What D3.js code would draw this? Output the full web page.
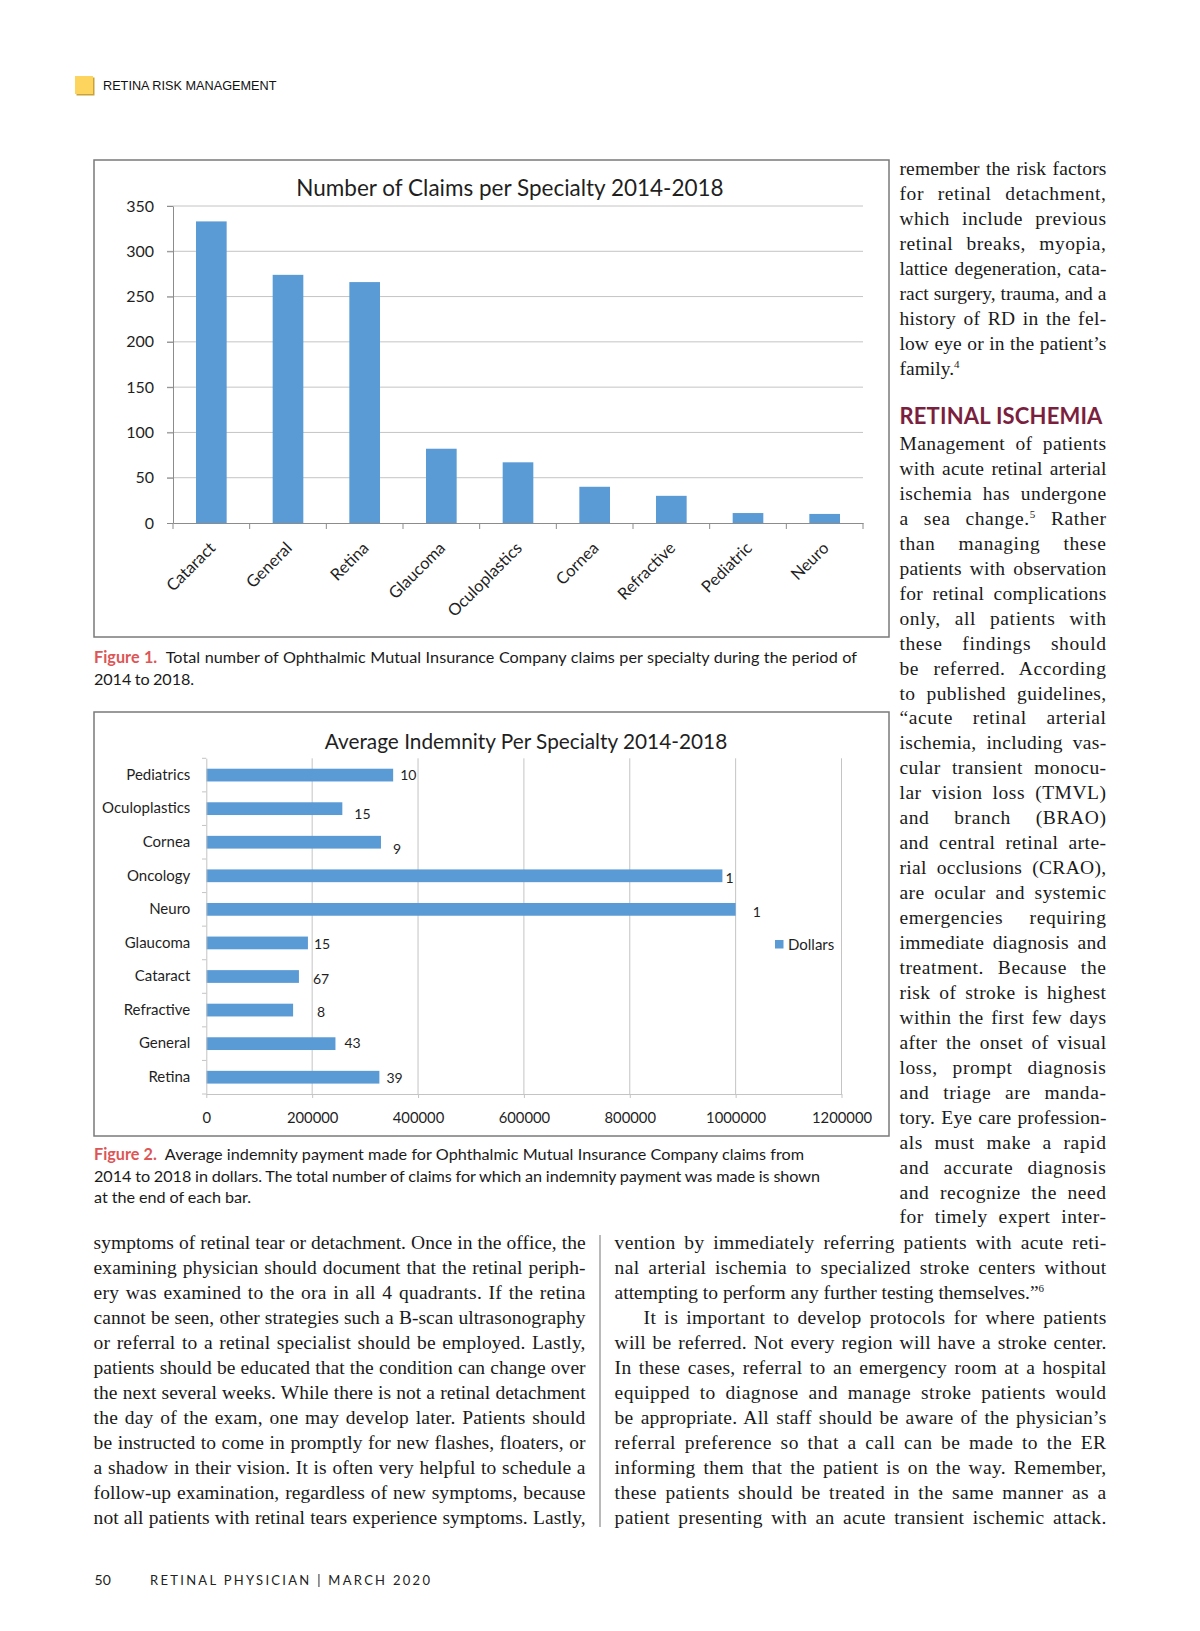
<!DOCTYPE html>
<html><head><meta charset="utf-8">
<script src="https://cdn.jsdelivr.net/npm/d3@7"></script>
<style>html,body{margin:0;padding:0;background:#fff}</style>
</head><body>
<svg id="page" width="1200" height="1631" xmlns="http://www.w3.org/2000/svg"></svg>
<script>
// ---------- DATA ----------
const claimSpecialties = ["Cataract","General","Retina","Glaucoma","Oculoplastics","Cornea","Refractive","Pediatric","Neuro"];
const claimCounts = [333, 274, 266, 82, 67, 40, 30, 11, 10];
const claimTicks = [0, 50, 100, 150, 200, 250, 300, 350];
const claimTitle = "Number of Claims per Specialty 2014-2018";

const indemnitySpecialties = ["Pediatrics","Oculoplastics","Cornea","Oncology","Neuro","Glaucoma","Cataract","Refractive","General","Retina"];
const indemnityDollars = [353000, 257000, 330000, 975000, 1000000, 192000, 175000, 164000, 244000, 327000];
const indemnityPaidClaims = ["10","15","9","1","1","15","67","8","43","39"];
const indemnityTicks = [0, 200000, 400000, 600000, 800000, 1000000, 1200000];
const indemnityTitle = "Average Indemnity Per Specialty 2014-2018";
const legendLabel = "Dollars";
// manual data-label nudges (as placed in the original spreadsheet chart)
const labelNudgeX = [7, 12, 12, 3, 17, 6, 14, 24, 9, 7];
const labelNudgeY = [0, 5, 7, 2, 3, 1, 3, 2, -1, 1];

const headerText = "RETINA RISK MANAGEMENT";
const caption1 = [["Figure 1.", "  Total number of Ophthalmic Mutual Insurance Company claims per specialty during the period of"], ["", "2014 to 2018."]];
const caption2 = [["Figure 2.", "  Average indemnity payment made for Ophthalmic Mutual Insurance Company claims from"], ["", "2014 to 2018 in dollars. The total number of claims for which an indemnity payment was made is shown"], ["", "at the end of each bar."]];

const colTopRight = ["remember the risk factors","for retinal detachment,","which include previous","retinal breaks, myopia,","lattice degeneration, cata-","ract surgery, trauma, and a","history of RD in the fel-","low eye or in the patient’s","family.^4"];
const heading = "RETINAL ISCHEMIA";
const colMidRight = ["Management of patients","with acute retinal arterial","ischemia has undergone","a sea change.^5 Rather","than managing these","patients with observation","for retinal complications","only, all patients with","these findings should","be referred. According","to published guidelines,","“acute retinal arterial","ischemia, including vas-","cular transient monocu-","lar vision loss (TMVL)","and branch (BRAO)","and central retinal arte-","rial occlusions (CRAO),","are ocular and systemic","emergencies requiring","immediate diagnosis and","treatment. Because the","risk of stroke is highest","within the first few days","after the onset of visual","loss, prompt diagnosis","and triage are manda-","tory. Eye care profession-","als must make a rapid","and accurate diagnosis","and recognize the need","for timely expert inter-"];
const colBottomLeft = ["symptoms of retinal tear or detachment. Once in the office, the","examining physician should document that the retinal periph-","ery was examined to the ora in all 4 quadrants. If the retina","cannot be seen, other strategies such a B-scan ultrasonography","or referral to a retinal specialist should be employed. Lastly,","patients should be educated that the condition can change over","the next several weeks. While there is not a retinal detachment","the day of the exam, one may develop later. Patients should","be instructed to come in promptly for new flashes, floaters, or","a shadow in their vision. It is often very helpful to schedule a","follow-up examination, regardless of new symptoms, because","not all patients with retinal tears experience symptoms. Lastly,"];
const colBottomRight = ["vention by immediately referring patients with acute reti-","nal arterial ischemia to specialized stroke centers without","attempting to perform any further testing themselves.”^6","It is important to develop protocols for where patients","will be referred. Not every region will have a stroke center.","In these cases, referral to an emergency room at a hospital","equipped to diagnose and manage stroke patients would","be appropriate. All staff should be aware of the physician’s","referral preference so that a call can be made to the ER","informing them that the patient is on the way. Remember,","these patients should be treated in the same manner as a","patient presenting with an acute transient ischemic attack."];
const footerPage = "50";
const footerText = "RETINAL PHYSICIAN | MARCH 2020";

// ---------- STYLE ----------
const BAR = "#5b9bd5", GRID = "#c4c4c4", AXIS = "#8c8c8c", INK = "#1f1f1f";
const SANS = "Lato, 'Open Sans', sans-serif";
const SERIF = "'Liberation Serif', 'DejaVu Serif', serif";
const svg = d3.select("#page");

// justify a line to a target width: part of the slack goes to letters, the rest to word gaps
function fit(sel, target, letterShare = 0.45, maxLetter = 0.6) {
  const node = sel.node();
  const nat = node.getComputedTextLength();
  const txt = node.textContent;
  const spaces = (txt.match(/ /g) || []).length;
  const extra = target - nat;
  if (spaces > 0) {
    let ls = extra * letterShare / txt.length;
    ls = Math.max(-0.25, Math.min(maxLetter, ls));
    sel.attr("letter-spacing", ls);
    const mid = node.getComputedTextLength();
    sel.attr("word-spacing", (target - mid) / spaces);
    const now = node.getComputedTextLength();
    if (Math.abs(now - target) > 2) sel.attr("word-spacing", null).attr("letter-spacing", null).attr("textLength", target).attr("lengthAdjust", "spacing");
  } else {
    sel.attr("textLength", target).attr("lengthAdjust", "spacing");
  }
}
function rich(sel, str) {
  const parts = str.split(/\^(\d)/);
  let raised = false;
  parts.forEach((p, i) => {
    if (!p) return;
    if (i % 2 === 1) {
      sel.append("tspan").attr("font-size", 11).attr("dy", -7).text(p);
      raised = true;
    } else {
      const t = sel.append("tspan").text(p);
      if (raised) { t.attr("dy", 7); raised = false; }
    }
  });
}
function column(lines, x, width, y0, lh, opts = {}) {
  lines.forEach((ln, i) => {
    const indent = (opts.indent && opts.indent[i]) || 0;
    const t = svg.append("text").attr("x", x + indent).attr("y", y0 + i * lh)
      .attr("font-family", SERIF).attr("font-size", 19.5).attr("fill", "#1a1a1a");
    rich(t, ln);
    if (!(opts.ragged && opts.ragged.includes(i))) fit(t, width - indent);
  });
}

// ---------- HEADER ----------
svg.append("rect").attr("x", 76.5).attr("y", 77.5).attr("width", 18).attr("height", 18).attr("fill", "#c9a23a");
svg.append("rect").attr("x", 75).attr("y", 76).attr("width", 18).attr("height", 18).attr("fill", "#fdd55e");
svg.append("text").attr("x", 103).attr("y", 90).attr("font-family", "'Liberation Sans', Arial, sans-serif")
  .attr("font-size", 12.7).attr("fill", "#111").text(headerText);

// ---------- CHART 1 ----------
svg.append("rect").attr("x", 94).attr("y", 160).attr("width", 795).attr("height", 477)
  .attr("fill", "#fff").attr("stroke", "#7a7a7a").attr("stroke-width", 1.5);
svg.append("text").attr("x", 510).attr("y", 196).attr("text-anchor", "middle")
  .attr("font-family", SANS).attr("font-size", 22.5).attr("fill", INK).text(claimTitle);

const x1 = d3.scaleBand().domain(claimSpecialties).range([173, 863]).paddingInner(0.6).paddingOuter(0.3);
const y1 = d3.scaleLinear().domain([0, 350]).range([523, 206]);
const g1 = svg.append("g");
g1.selectAll("line.grid").data(claimTicks.filter(d => d > 0)).join("line")
  .attr("x1", 167).attr("x2", 863).attr("y1", d => y1(d)).attr("y2", d => y1(d))
  .attr("stroke", GRID).attr("stroke-width", 1);
g1.selectAll("rect.bar").data(claimCounts).join("rect")
  .attr("x", (d, i) => x1(claimSpecialties[i])).attr("width", x1.bandwidth())
  .attr("y", d => y1(d)).attr("height", d => y1(0) - y1(d)).attr("fill", BAR);
const ya1 = g1.append("g").attr("transform", "translate(173,0)")
  .call(d3.axisLeft(y1).tickValues(claimTicks).tickSize(6).tickSizeOuter(0).tickPadding(13));
ya1.select(".domain").attr("stroke", AXIS);
ya1.selectAll(".tick line").attr("stroke", AXIS);
ya1.selectAll("text").attr("font-family", SANS).attr("font-size", 16).attr("fill", INK);
const xa1 = g1.append("g").attr("transform", "translate(0,523)")
  .call(d3.axisBottom(x1).tickSize(0).tickSizeOuter(0).tickPadding(0));
xa1.select(".domain").attr("stroke", AXIS);
xa1.selectAll(".tick text").attr("font-family", SANS).attr("font-size", 16.5).attr("fill", INK)
  .attr("text-anchor", "end").attr("dy", "0.35em").attr("transform", "translate(1,22) rotate(-45)");
const bounds1 = claimSpecialties.map(d => x1(d) - x1.step() * x1.paddingOuter()).concat([x1.range()[1]]);
g1.selectAll("line.bt").data(bounds1).join("line")
  .attr("x1", d => d).attr("x2", d => d).attr("y1", 523).attr("y2", 529).attr("stroke", AXIS);

// caption 1
caption1.forEach((c, i) => {
  const t = svg.append("text").attr("x", 94).attr("y", 663 + i * 21.7).attr("font-family", SANS).attr("font-size", 16.2).attr("fill", "#1a1a1a");
  if (c[0]) t.append("tspan").attr("fill", "#dc5656").attr("font-weight", 700).text(c[0]);
  t.append("tspan").text(c[1]).attr("xml:space", "preserve");
  fit(t, i === 0 ? 763 : 100, 0.5, 0.3);
});

// ---------- CHART 2 ----------
svg.append("rect").attr("x", 94).attr("y", 712).attr("width", 795).attr("height", 424)
  .attr("fill", "#fff").attr("stroke", "#7a7a7a").attr("stroke-width", 1.5);
svg.append("text").attr("x", 526).attr("y", 749).attr("text-anchor", "middle")
  .attr("font-family", SANS).attr("font-size", 20.8).attr("fill", INK).text(indemnityTitle);

const x2 = d3.scaleLinear().domain([0, 1200000]).range([206.3, 841.5]);
const y2 = d3.scaleBand().domain(indemnitySpecialties).range([758.3, 1094]).paddingInner(0.62).paddingOuter(0.31);
const g2 = svg.append("g");
g2.selectAll("line.grid").data(indemnityTicks.filter(d => d > 0)).join("line")
  .attr("x1", d => x2(d)).attr("x2", d => x2(d)).attr("y1", 758.3).attr("y2", 1094)
  .attr("stroke", GRID).attr("stroke-width", 1);
g2.selectAll("rect.bar").data(indemnityDollars).join("rect")
  .attr("x", x2(0)).attr("width", d => x2(d) - x2(0))
  .attr("y", (d, i) => y2(indemnitySpecialties[i])).attr("height", y2.bandwidth()).attr("fill", BAR);
const xa2 = g2.append("g").attr("transform", "translate(0,1094)")
  .call(d3.axisBottom(x2).tickValues(indemnityTicks).tickFormat(d3.format("d")).tickSize(4).tickSizeOuter(0).tickPadding(14));
xa2.select(".domain").attr("stroke", GRID);
xa2.selectAll(".tick line").attr("stroke", GRID);
xa2.selectAll("text").attr("font-family", SANS).attr("font-size", 14.8).attr("fill", INK);
const ya2 = g2.append("g").attr("transform", "translate(206.3,0)")
  .call(d3.axisLeft(y2).tickSize(0).tickSizeOuter(0).tickPadding(16));
ya2.select(".domain").attr("stroke", GRID);
ya2.selectAll("text").attr("font-family", SANS).attr("font-size", 15).attr("fill", INK);
const bounds2 = indemnitySpecialties.map(d => y2(d) - y2.step() * y2.paddingOuter()).concat([y2.range()[1]]);
g2.selectAll("line.bt").data(bounds2).join("line")
  .attr("x1", 202).attr("x2", 206.3).attr("y1", d => d).attr("y2", d => d).attr("stroke", GRID);
g2.selectAll("text.lab").data(indemnityPaidClaims).join("text")
  .attr("x", (d, i) => x2(indemnityDollars[i]) + labelNudgeX[i])
  .attr("y", (d, i) => y2(indemnitySpecialties[i]) + y2.bandwidth() / 2 + labelNudgeY[i])
  .attr("dy", "0.35em").attr("font-family", SANS).attr("font-size", 14).attr("fill", INK).text(d => d);
// legend
svg.append("rect").attr("x", 775).attr("y", 940).attr("width", 8.5).attr("height", 8.5).attr("fill", BAR);
svg.append("text").attr("x", 788).attr("y", 944.5).attr("dy", "0.35em").attr("font-family", SANS)
  .attr("font-size", 15).attr("fill", INK).text(legendLabel);

// caption 2
const cap2W = [710, 726, 157];
caption2.forEach((c, i) => {
  const t = svg.append("text").attr("x", 94).attr("y", 1160 + i * 21.7).attr("font-family", SANS).attr("font-size", 16.2).attr("fill", "#1a1a1a");
  if (c[0]) t.append("tspan").attr("fill", "#dc5656").attr("font-weight", 700).text(c[0]);
  t.append("tspan").text(c[1]).attr("xml:space", "preserve");
  fit(t, cap2W[i], 0.5, 0.3);
});

// ---------- BODY TEXT ----------
column(colTopRight, 899.5, 207, 175, 25, { ragged: [8] });
const h = svg.append("text").attr("x", 899.5).attr("y", 424).attr("font-family", SANS).attr("font-weight", 700)
  .attr("font-size", 22).attr("fill", "#7b1f3e").text(heading);
fit(h, 203, 0.9, 1.2);
column(colMidRight, 899.5, 207, 450, 24.95);
column(colBottomLeft, 93.6, 492, 1249, 24.96);
column(colBottomRight, 614.6, 492, 1249, 24.96, { ragged: [2], indent: { 3: 29 } });
svg.append("line").attr("x1", 600).attr("x2", 600).attr("y1", 1235).attr("y2", 1527).attr("stroke", "#8a8a8a").attr("stroke-width", 1.2);

// ---------- FOOTER ----------
svg.append("text").attr("x", 94.6).attr("y", 1585).attr("font-family", SANS).attr("font-size", 14).attr("fill", "#222").text(footerPage);
svg.append("text").attr("x", 150).attr("y", 1585).attr("font-family", SANS).attr("font-size", 13)
  .attr("fill", "#222").attr("textLength", 280).attr("lengthAdjust", "spacing").text(footerText);
</script>
</body></html>
